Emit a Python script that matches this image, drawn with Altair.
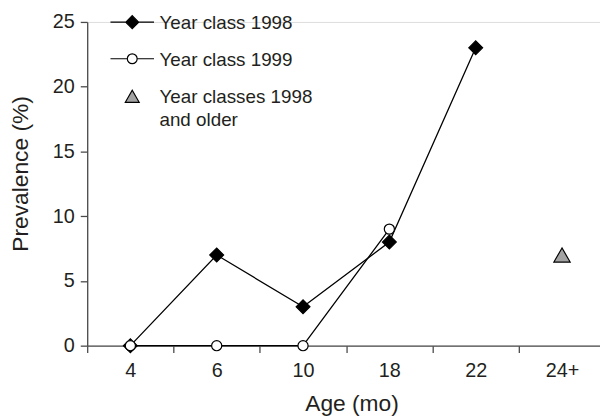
import altair as alt
import pandas as pd

# ---- data ----
age_labels = ["4", "6", "10", "18", "22", "24+"]
age_pos = [0, 1, 2, 3, 4, 5]

series_names = ["Year class 1998", "Year class 1999", "Year classes 1998 and older"]

yc1998_pos = [0, 1, 2, 3, 4]
yc1998_val = [0, 7, 3, 8, 23]

yc1999_pos = [0, 1, 2, 3]
yc1999_val = [0, 0, 0, 9]

older_pos = [5]
older_val = [7]

y_ticks = [0, 5, 10, 15, 20, 25]

# ---- table ----
rows = []
for p, v in zip(yc1998_pos, yc1998_val):
    rows.append({"series": series_names[0], "x": p, "y": v})
for p, v in zip(yc1999_pos, yc1999_val):
    rows.append({"series": series_names[1], "x": p, "y": v})
for p, v in zip(older_pos, older_val):
    rows.append({"series": series_names[2], "x": p, "y": v})
df = pd.DataFrame(rows)

FONT = "Liberation Sans"
TXT = "#231f20"
AX = "#4a4a4a"
FILLS = ["black", "white", "#a3a3a3"]

label_arr = "[" + ",".join("'" + s + "'" for s in age_labels) + "]"
x_values = []
for p in age_pos:
    x_values.append(p - 0.5)
    x_values.append(p)

x_enc = alt.X(
    "x:Q",
    scale=alt.Scale(domain=[-0.5, 5.44], nice=False, zero=False),
    axis=alt.Axis(
        values=x_values,
        labelExpr=f"datum.value % 1 === 0 ? {label_arr}[datum.value] : ''",
        tickOpacity={"condition": {"test": "datum.value % 1 === 0", "value": 0}, "value": 1},
        labelOverlap=False,
        labelFlush=False,
        grid=False,
        title="Age (mo)",
        titleX=267,
        titleY=59,
        titleBaseline="middle",
        titleFontSize=23,
        titleFontWeight="normal",
        titleFont=FONT,
        titleColor=TXT,
        labelFont=FONT,
        labelFontSize=20,
        labelColor=TXT,
        labelPadding=8,
        tickSize=7,
        tickColor=AX,
        domainColor=AX,
        tickWidth=1.3,
        domainWidth=1.3,
    ),
)

y_enc = alt.Y(
    "y:Q",
    scale=alt.Scale(domain=[0, 25], nice=False),
    axis=alt.Axis(
        values=y_ticks,
        grid=False,
        title="Prevalence (%)",
        titleX=-67,
        titleY=153,
        titleAngle=270,
        titleBaseline="middle",
        titleFontSize=23,
        titleFontWeight="normal",
        titleFont=FONT,
        titleColor=TXT,
        labelFont=FONT,
        labelFontSize=20,
        labelColor=TXT,
        labelPadding=6,
        tickSize=7,
        tickColor=AX,
        domainColor=AX,
        tickWidth=1.3,
        domainWidth=1.3,
    ),
)

base = alt.Chart(df)

lines = (
    base.transform_filter(alt.FieldOneOfPredicate(field="series", oneOf=series_names[:2]))
    .mark_line(color="black", strokeWidth=1.3)
    .encode(x=x_enc, y=y_enc, detail="series:N")
)

def pts(name, shape, size, fill):
    return (
        base.transform_filter(alt.FieldEqualPredicate(field="series", equal=name))
        .mark_point(shape=shape, size=size, filled=True, fill=fill, opacity=1,
                    stroke="black", strokeWidth=1.2)
        .encode(x=x_enc, y=y_enc)
    )

p98 = pts(series_names[0], "diamond", 196, FILLS[0])
p99 = pts(series_names[1], "circle", 105, FILLS[1])
pold = pts(series_names[2], "triangle-up", 270, FILLS[2])

# legend symbols (units of 7 px), drawn a little below the entry origin
sym_1998 = "M-3.14,1.1H3.14M0,0.17L0.93,1.1L0,2.03L-0.93,1.1Z"
sym_1999 = ("M-3.14,1.1H-0.71M0.71,1.1H3.14M-0.71,1.1"
            "A0.71,0.71 0 1,1 0.71,1.1A0.71,0.71 0 1,1 -0.71,1.1Z")
sym_older = "M0,0.35L1,2.1L-1,2.1Z"

legend = alt.Legend(
    title=None,
    orient="none",
    legendX=36,
    legendY=-17,
    padding=0,
    labelFont=FONT,
    labelFontSize=19,
    labelColor=TXT,
    labelLimit=400,
    labelOffset=18,
    labelBaseline="top",
    rowPadding=8,
    symbolSize=196,
    symbolStrokeColor="black",
    symbolStrokeWidth=1.2,
    symbolOpacity=1,
    labelExpr=(
        f"datum.label === '{series_names[2]}' ? ['Year classes 1998', 'and older'] : datum.label"
    ),
)

legend_layer = (
    base.transform_filter("false")
    .mark_point(filled=True, strokeWidth=1.2, opacity=1)
    .encode(
        x=x_enc,
        y=y_enc,
        shape=alt.Shape(
            "series:N",
            scale=alt.Scale(domain=series_names, range=[sym_1998, sym_1999, sym_older]),
            legend=legend,
        ),
        fill=alt.Fill(
            "series:N",
            scale=alt.Scale(domain=series_names, range=FILLS),
            legend=legend,
        ),
        stroke=alt.Stroke(
            "series:N",
            scale=alt.Scale(domain=series_names, range=["black", "black", "black"]),
            legend=legend,
        ),
    )
)

chart = (
    alt.layer(lines, p98, p99, pold, legend_layer)
    .properties(
        width=518,
        height=327,
        autosize=alt.AutoSizeParams(type="none"),
        padding={"left": 80, "top": 12, "right": 0, "bottom": 72},
        background="white",
    )
    .configure_view(stroke=None)
    .configure(style={"guide-label": {"lineHeight": 24}})
)

chart.save("out.html", embed_options={"renderer": "svg", "actions": False})
